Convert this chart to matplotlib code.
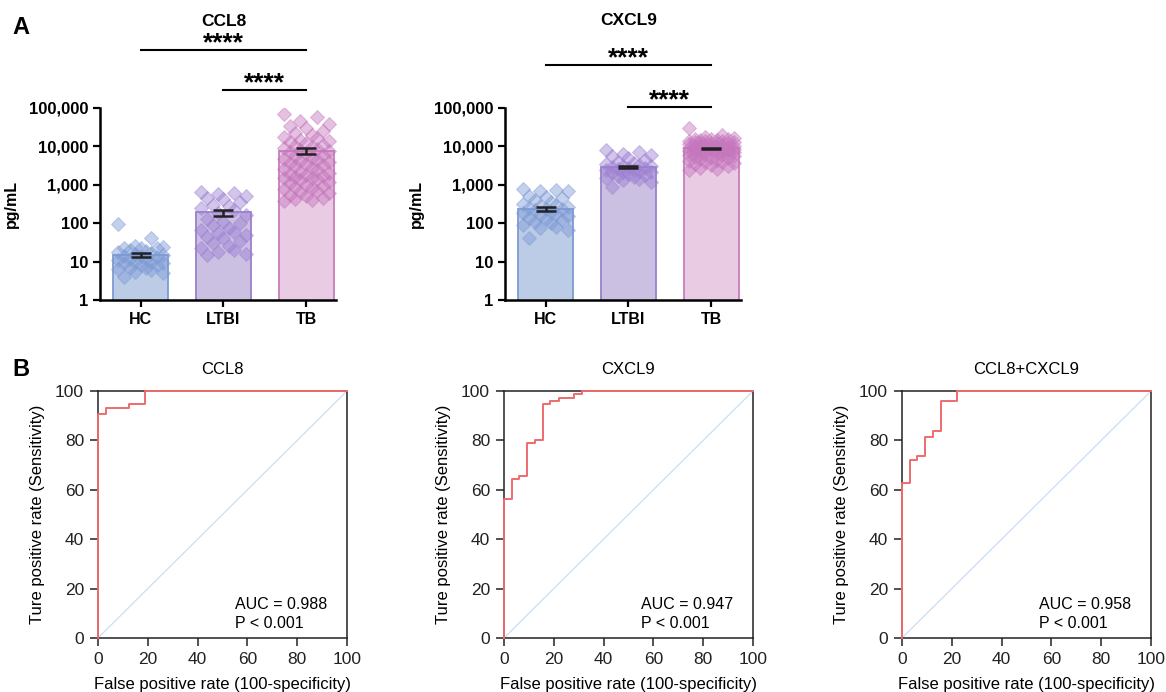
import numpy as np
import matplotlib
matplotlib.use("Agg")
import matplotlib.pyplot as plt
import matplotlib.transforms as mtransforms

plt.rcParams['font.family'] = ['Liberation Sans', 'DejaVu Sans']

# ---------------- data ----------------
groups = ['HC', 'LTBI', 'TB']

# CCL8 (pg/mL), individual samples
ccl8_hc = [95, 42, 25, 23, 22, 20, 24, 19, 18, 17, 16, 15, 14, 14, 13, 12,
           12, 11, 10, 10, 9, 9, 8, 8, 7, 7, 6.5, 6, 5.5, 5, 4, 22]
ccl8_ltbi = [650, 600, 580, 500, 450, 430, 350, 300, 280, 250, 220, 180, 160,
             130, 110, 100, 90, 75, 65, 55, 50, 45, 40, 35, 30, 25, 22, 20,
             18, 16, 15, 60]
ccl8_tb = [70000, 60000, 45000, 38000, 35000, 30000, 25000, 22000, 20000,
           18000, 17000, 15000, 14000, 13000, 12000, 11000, 10000, 9500, 9000,
           8500, 8000, 7500, 7000, 6500, 6000, 5500, 5000, 4800, 4500, 4200,
           4000, 3800, 3500, 3200, 3000, 2800, 2600, 2400, 2200, 2000, 1900,
           1800, 1700, 1600, 1500, 1400, 1300, 1200, 1100, 1000, 950, 900,
           850, 800, 700, 650, 600, 550, 500, 450, 420, 400, 380, 1500]
ccl8_mean = [15, 190, 7800]
ccl8_sem = [2, 35, 1400]

# CXCL9 (pg/mL)
cxcl9_hc = [800, 750, 700, 680, 500, 480, 450, 400, 350, 320, 300, 280, 260,
            250, 240, 230, 220, 200, 180, 170, 160, 150, 140, 130, 120, 110,
            100, 90, 80, 75, 65, 42]
cxcl9_ltbi = [8000, 7000, 6500, 6000, 5500, 5000, 4500, 4000, 3800, 3500,
              3300, 3100, 3000, 2900, 2800, 2700, 2600, 2500, 2400, 2300, 2200,
              2100, 2000, 1900, 1800, 1700, 1600, 1500, 1400, 1300, 1200, 900]
cxcl9_tb = [30000, 20000, 18000, 17000, 16000, 15500, 15000, 14500, 14000,
            13500, 13000, 12500, 12000, 11500, 11000, 10500, 10000, 9800, 9500,
            9200, 9000, 8800, 8500, 8200, 8000, 7800, 7500, 7200, 7000, 6800,
            6500, 6200, 6000, 5800, 5500, 5200, 5000, 4800, 4500, 4200, 4000,
            3800, 3500, 3200, 3000, 2800, 2600, 2500, 11000, 12000, 13000, 9000,
            8000, 7000, 10000, 6000, 14000, 16000, 5000, 4000, 12500, 9500,
            8500, 7500]
cxcl9_mean = [235, 2900, 9000]
cxcl9_sem = [25, 200, 350]

# ROC curves (false positive rate, true positive rate), %
roc_titles = ['CCL8', 'CXCL9', 'CCL8+CXCL9']
roc_auc = ['0.988', '0.947', '0.958']
ccl8_fpr = [0, 0, 3.1, 3.1, 12.5, 12.5, 18.8, 18.8, 100]
ccl8_tpr = [0, 90.6, 90.6, 93.2, 93.2, 94.8, 94.8, 100, 100]
cxcl9_fpr = [0, 0, 3.2, 3.2, 6.2, 6.2, 9.4, 9.4, 12.5, 12.5, 15.8, 15.8,
             18.5, 18.5, 22, 22, 28.2, 28.2, 31.4, 31.4, 100]
cxcl9_tpr = [0, 56.4, 56.4, 64.5, 64.5, 65.5, 65.5, 79, 79, 80.3, 80.3, 94.6,
             94.6, 96, 96, 97.3, 97.3, 98.6, 98.6, 100, 100]
combo_fpr = [0, 0, 3.1, 3.1, 6.2, 6.2, 9.4, 9.4, 12.5, 12.5, 15.6, 15.6,
             21.9, 21.9, 100]
combo_tpr = [0, 62.9, 62.9, 72.2, 72.2, 73.5, 73.5, 81.4, 81.4, 83.8, 83.8,
             96, 96, 100, 100]

# ---------------- style ----------------
bar_fill = ['#bccbe6', '#cbbfe2', '#e9cbe4']
bar_edge = ['#7f9bd2', '#9a7fcc', '#c77dbd']
dot_col = ['#7d9ad6', '#9c80d2', '#c576bd']
spread = [-0.27, 0.13, -0.07, 0.27, -0.2, 0.0, 0.2, -0.13, 0.07]

W, H = 1166, 692
fig = plt.figure(figsize=(W / 100, H / 100), dpi=100)


def px_axes(l, r, t, b):
    return fig.add_axes([l / W, (H - b) / H, (r - l) / W, (b - t) / H])


def bar_panel(ax, pts, means, sems, title, ann):
    x = np.arange(3)
    ax.bar(x, means, width=0.66, color=bar_fill, edgecolor=bar_edge,
           linewidth=1.3, zorder=1)
    for i, vals in enumerate(pts):
        v = np.sort(np.array(vals, dtype=float))[::-1]
        off = np.array([spread[k % len(spread)] for k in range(len(v))])
        ax.scatter(x[i] + off, v, marker='D', s=50, facecolor=dot_col[i],
                   edgecolor=dot_col[i], alpha=0.45, linewidth=0.8, zorder=2)
    ax.errorbar(x, means, yerr=sems, fmt='none', ecolor='#222222',
                elinewidth=1.8, capsize=7, capthick=1.8, zorder=3)
    ax.set_yscale('log')
    ax.set_ylim(1, 1e5)
    ax.set_xlim(-0.49, 2.36)
    ax.set_yticks([1, 10, 100, 1000, 10000, 100000])
    ax.set_yticklabels(['1', '10', '100', '1,000', '10,000', '100,000'])
    ax.yaxis.set_minor_locator(matplotlib.ticker.NullLocator())
    ax.set_xticks(x)
    ax.set_xticklabels(groups)
    for s in ['top', 'right']:
        ax.spines[s].set_visible(False)
    for s in ['left', 'bottom']:
        ax.spines[s].set_linewidth(1.8)
    ax.tick_params(axis='both', width=1.6, length=5, direction='out')
    for lab in ax.get_xticklabels():
        lab.set_fontweight('bold')
        lab.set_fontsize(11.5)
    for lab in ax.get_yticklabels():
        lab.set_fontweight('bold')
        lab.set_fontsize(12)
    ax.set_ylabel('pg/mL', fontsize=11.5, fontweight='bold', labelpad=7)
    tr = mtransforms.blended_transform_factory(ax.transData, ax.transAxes)
    ax.text(1, ann['title'], title, transform=tr, ha='center', va='center',
            fontsize=12.5, fontweight='bold')
    for (x0, x1), ly, sy in ann['lines']:
        ax.plot([x0, x1], [ly, ly], color='black', lw=1.5, transform=tr,
                clip_on=False)
        ax.text((x0 + x1) / 2, sy, '****', transform=tr, ha='center',
                va='center', fontsize=19, fontweight='bold')


ax1 = px_axes(100, 336, 108, 300)
bar_panel(ax1, [ccl8_hc, ccl8_ltbi, ccl8_tb], ccl8_mean, ccl8_sem, 'CCL8',
          {'title': 1.453, 'lines': [((0, 2), 1.302, 1.335), ((1, 2), 1.094, 1.127)]})
ax2 = px_axes(505, 741, 108, 300)
bar_panel(ax2, [cxcl9_hc, cxcl9_ltbi, cxcl9_tb], cxcl9_mean, cxcl9_sem, 'CXCL9',
          {'title': 1.458, 'lines': [((0, 2), 1.224, 1.257), ((1, 2), 1.005, 1.038)]})

# ---------------- ROC ----------------
roc_data = [(ccl8_fpr, ccl8_tpr), (cxcl9_fpr, cxcl9_tpr), (combo_fpr, combo_tpr)]
roc_left = [98, 504, 902]
for k in range(3):
    ax = px_axes(roc_left[k], roc_left[k] + 249, 391, 638)
    fpr, tpr = roc_data[k]
    ax.plot([0, 100], [0, 100], color='#cadff3', lw=0.9, zorder=1)
    ax.plot(fpr, tpr, color='#ee6b6e', lw=1.4, clip_on=False, zorder=5)
    ax.set_xlim(0, 100)
    ax.set_ylim(0, 100)
    ax.set_xticks(range(0, 101, 20))
    ax.set_yticks(range(0, 101, 20))
    for s in ax.spines.values():
        s.set_linewidth(1.1)
        s.set_color('#222222')
    ax.tick_params(axis='both', width=1.1, length=6, labelsize=12.5,
                   colors='#222222', pad=4)
    ax.set_title(roc_titles[k], fontsize=12, pad=12)
    ax.set_xlabel('False positive rate (100-specificity)', fontsize=12,
                  labelpad=7)
    ax.set_ylabel('Ture positive rate (Sensitivity)', fontsize=12, labelpad=7)
    ax.text(55, 13.5, 'AUC = ' + roc_auc[k], fontsize=11.5, va='center')
    ax.text(55, 6, 'P < 0.001', fontsize=11.5, va='center')

fig.text(21 / W, (H - 28) / H, 'A', fontsize=17, fontweight='bold',
         ha='center', va='center')
fig.text(21 / W, (H - 370) / H, 'B', fontsize=17, fontweight='bold',
         ha='center', va='center')

fig.savefig('out.png', dpi=100)
